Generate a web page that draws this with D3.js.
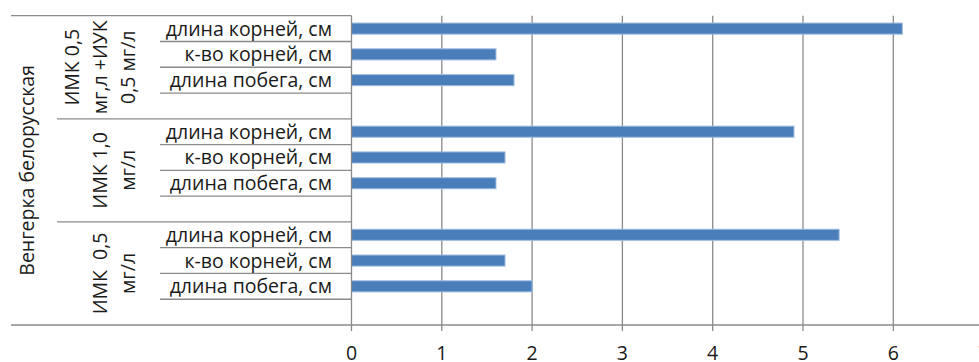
<!DOCTYPE html>
<html>
<head>
<meta charset="utf-8">
<script src="https://cdn.jsdelivr.net/npm/d3@7"></script>
<style>
  html, body { margin: 0; padding: 0; background: #fff; }
  svg { display: block; }
  text { font-family: "Open Sans", Lato, sans-serif; fill: #1a1a1a; white-space: pre; }
</style>
</head>
<body>
<svg id="chart" width="979" height="362"></svg>
<script>
// Variety, treatments (top to bottom) and measured traits
const variety = "Венгерка белорусская";
const groups = [
  ["ИМК 0,5", "мг,л +ИУК", "0,5 мг/л"],
  ["ИМК 1,0", "мг/л"],
  ["ИМК  0,5", "мг/л"]
];
const traits = ["длина корней, см", "к-во корней, см", "длина побега, см", ""];
// values per group, in the order of traits (last row of each group is blank)
const valuesGroup1 = [6.1, 1.6, 1.8];
const valuesGroup2 = [4.9, 1.7, 1.6];
const valuesGroup3 = [5.4, 1.7, 2.0];
const xTicks = [0, 1, 2, 3, 4, 5, 6, 7];

const groupValues = [valuesGroup1, valuesGroup2, valuesGroup3];
const rows = [];
groups.forEach((g, gi) => {
  traits.forEach((t, ti) => {
    rows.push({ id: gi + "-" + ti, group: gi, trait: t, value: ti < 3 ? groupValues[gi][ti] : null });
  });
});

const svg = d3.select("#chart");
const yTop = 15.7, yBottom = 325;
const x0 = 351.5, unit = 90.3;
const x = d3.scaleLinear().domain([0, 7]).range([x0, x0 + 7 * unit]);
const y = d3.scaleBand().domain(rows.map(r => r.id)).range([yTop, yBottom]).padding(0);
const grid = "#8a8a8a";
const fs = "19.5px";

// vertical gridlines with ticks below the axis
svg.append("g").selectAll("line").data(xTicks.slice(1)).join("line")
  .attr("x1", d => x(d)).attr("x2", d => x(d))
  .attr("y1", yTop).attr("y2", yBottom + 6)
  .attr("stroke", grid).attr("stroke-width", 1.3);

// bars
const barH = y.bandwidth() * 0.43;
svg.append("g").selectAll("rect").data(rows.filter(r => r.value != null)).join("rect")
  .attr("x", x(0))
  .attr("y", d => y(d.id) + y.bandwidth() / 2 - barH / 2)
  .attr("width", d => x(d.value) - x(0))
  .attr("height", barH)
  .attr("fill", "#4a7ebb")
  .attr("stroke", "#9dbbe0").attr("stroke-width", 1);

// category axis line
svg.append("line").attr("x1", x0).attr("x2", x0).attr("y1", yTop).attr("y2", yBottom + 6)
  .attr("stroke", grid).attr("stroke-width", 1.3);
// value axis line
svg.append("line").attr("x1", 11).attr("x2", 979).attr("y1", yBottom).attr("y2", yBottom)
  .attr("stroke", grid).attr("stroke-width", 1.3);
// outer top border of the category labels
svg.append("line").attr("x1", 11).attr("x2", x0).attr("y1", yTop).attr("y2", yTop)
  .attr("stroke", grid).attr("stroke-width", 1.3);

// inner row dividers
const rowEdges = rows.map(r => y(r.id) + y.bandwidth()).filter((v, i) => (i + 1) % 4 !== 0);
svg.append("g").selectAll("line").data(rowEdges).join("line")
  .attr("x1", 160).attr("x2", x0).attr("y1", d => d).attr("y2", d => d)
  .attr("stroke", grid).attr("stroke-width", 1.3);
// group dividers
const groupEdges = groups.slice(0, -1).map((g, gi) => y(gi + "-3") + y.bandwidth());
svg.append("g").selectAll("line").data(groupEdges).join("line")
  .attr("x1", 57).attr("x2", x0).attr("y1", d => d).attr("y2", d => d)
  .attr("stroke", grid).attr("stroke-width", 1.3);

// trait labels
svg.append("g").selectAll("text").data(rows.filter(r => r.trait)).join("text")
  .attr("x", 332).attr("y", d => y(d.id) + y.bandwidth() / 2)
  .attr("dy", "0.36em").attr("text-anchor", "end")
  .style("font-size", fs).text(d => d.trait);

// group labels (rotated)
groups.forEach((lines, gi) => {
  const cy = (y(gi + "-0") + y(gi + "-3") + y.bandwidth()) / 2;
  lines.forEach((ln, li) => {
    const cx = 128 - (lines.length - 1 - li) * 28;
    svg.append("text")
      .attr("transform", `translate(${cx},${cy}) rotate(-90)`)
      .attr("text-anchor", "middle").attr("dy", "0.36em")
      .style("font-size", fs).text(ln);
  });
});

// variety label
svg.append("text")
  .attr("transform", `translate(27,${(yTop + yBottom) / 2}) rotate(-90)`)
  .attr("text-anchor", "middle").attr("dy", "0.36em")
  .style("font-size", fs).text(variety);

// value tick labels
svg.append("g").selectAll("text").data(xTicks).join("text")
  .attr("x", d => x(d)).attr("y", 359.5)
  .attr("text-anchor", "middle").style("font-size", fs).text(d => d);
</script>
</body>
</html>
